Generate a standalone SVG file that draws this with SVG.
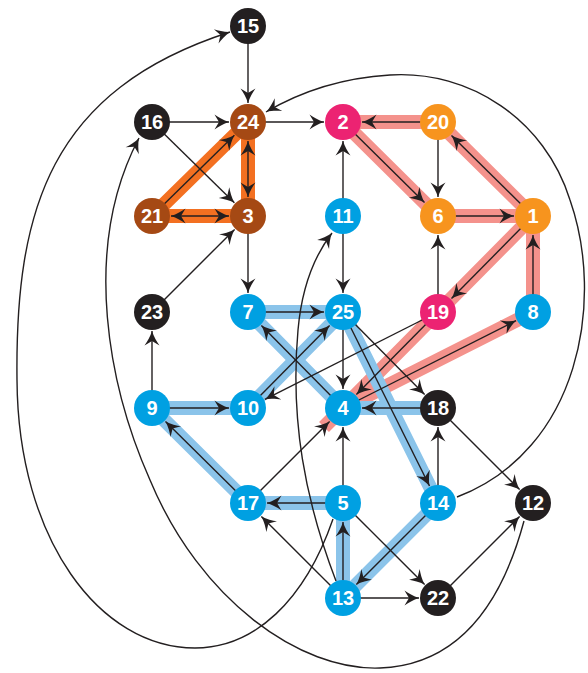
<svg xmlns="http://www.w3.org/2000/svg" width="588" height="673" viewBox="0 0 588 673">
  <style>
    .edge { fill: none; stroke: #231f20; stroke-width: 1.4; }
    .arrow { marker-end: url(#ah); }
    .both { marker-start: url(#ah); marker-end: url(#ah); }
    .band { fill: none; stroke-width: 14; stroke-linejoin: miter; stroke-miterlimit: 8; }
    .bevel { stroke-linejoin: bevel; }
    .b-orange { stroke: #f37021; }
    .b-salmon { stroke: #f4928c; }
    .b-blue { stroke: #8bc4ea; }
    .node circle { stroke: none; }
    .k circle { fill: #231f20; }
    .br circle { fill: #a54914; }
    .pk circle { fill: #ec2372; }
    .or circle { fill: #f7941e; }
    .bl circle { fill: #00a0e2; }
    .node text { font-family: "Liberation Sans", Arial, sans-serif; font-weight: bold; font-size: 20px; fill: #ffffff; text-anchor: middle; }
  </style>
  <defs>
    <marker id="ah" viewBox="-15 -8 16 16" refX="0" refY="0" markerWidth="16" markerHeight="16" markerUnits="userSpaceOnUse" orient="auto-start-reverse">
      <path d="M0,0 C-5.5,-1.6 -11,-5 -14.5,-7.5 L-10,0 L-14.5,7.5 C-11,5 -5.5,1.6 0,0 Z" fill="#231f20"/>
    </marker>
  </defs>

  <!-- highlighted cycles -->
  <g id="bands">
    <polygon class="band b-orange" points="152,216 248,122 248,216"/>
    <polygon class="band b-salmon" points="343,122 438,122 533,216 438,216"/>
    <polygon class="band b-salmon bevel" points="533,216 343,408 533,312"/>
    <line class="band b-salmon" x1="343" y1="408" x2="324" y2="427"/>
    <polygon class="band b-blue" points="343,312 248,408 152,408 248,503 343,503 343,598 438,503"/>
    <polyline class="band b-blue" points="343,312 248,312 343,408 438,408"/>
  </g>

  <g id="connectors">
    <!-- orange cluster -->
    <line class="edge arrow" x1="152" y1="216" x2="234.4" y2="135.3"/>
    <line class="edge both" x1="248" y1="141" x2="248" y2="197"/>
    <line class="edge both" x1="171" y1="216" x2="229" y2="216"/>
    <line class="edge arrow" x1="248" y1="26" x2="248" y2="103"/>
    <line class="edge arrow" x1="152" y1="122" x2="229" y2="122"/>
    <line class="edge arrow" x1="152" y1="122" x2="234.4" y2="202.7"/>
    <line class="edge arrow" x1="152" y1="312" x2="234.6" y2="229.4"/>
    <line class="edge arrow" x1="248" y1="122" x2="324" y2="122"/>
    <line class="edge arrow" x1="248" y1="216" x2="248" y2="293"/>
    <!-- pink / orange cluster -->
    <line class="edge arrow" x1="438" y1="122" x2="362" y2="122"/>
    <line class="edge arrow" x1="343" y1="122" x2="424.5" y2="202.6"/>
    <line class="edge arrow" x1="438" y1="216" x2="514" y2="216"/>
    <line class="edge arrow" x1="533" y1="216" x2="451.5" y2="135.4"/>
    <line class="edge arrow" x1="438" y1="122" x2="438" y2="197"/>
    <line class="edge arrow" x1="533" y1="216" x2="451.5" y2="298.6"/>
    <line class="edge arrow" x1="438" y1="312" x2="356.4" y2="394.5"/>
    <line class="edge arrow" x1="343" y1="408" x2="516.1" y2="320.6"/>
    <line class="edge arrow" x1="533" y1="312" x2="533" y2="235"/>
    <line class="edge arrow" x1="438" y1="312" x2="438" y2="235"/>
    <line class="edge arrow" x1="438" y1="312" x2="264.9" y2="399.4"/>
    <line class="edge arrow" x1="343" y1="216" x2="343" y2="141"/>
    <line class="edge arrow" x1="343" y1="216" x2="343" y2="293"/>
    <!-- blue cluster -->
    <line class="edge arrow" x1="248" y1="312" x2="324" y2="312"/>
    <line class="edge arrow" x1="343" y1="408" x2="261.4" y2="325.4"/>
    <line class="edge arrow" x1="248" y1="408" x2="329.6" y2="325.4"/>
    <line class="edge arrow" x1="152" y1="408" x2="229" y2="408"/>
    <line class="edge arrow" x1="248" y1="503" x2="165.5" y2="421.4"/>
    <line class="edge arrow" x1="343" y1="503" x2="267" y2="503"/>
    <line class="edge arrow" x1="343" y1="598" x2="343" y2="522"/>
    <line class="edge arrow" x1="438" y1="503" x2="356.4" y2="584.6"/>
    <line class="edge arrow" x1="343" y1="312" x2="429.5" y2="486"/>
    <line class="edge arrow" x1="438" y1="408" x2="362" y2="408"/>
    <!-- remaining edges -->
    <line class="edge arrow" x1="343" y1="312" x2="343" y2="389"/>
    <line class="edge arrow" x1="343" y1="312" x2="424.6" y2="394.5"/>
    <line class="edge arrow" x1="438" y1="503" x2="438" y2="427"/>
    <line class="edge arrow" x1="438" y1="408" x2="519.6" y2="489.6"/>
    <line class="edge arrow" x1="343" y1="503" x2="343" y2="427"/>
    <line class="edge arrow" x1="248" y1="503" x2="329.6" y2="421.4"/>
    <line class="edge arrow" x1="343" y1="503" x2="424.6" y2="584.6"/>
    <line class="edge arrow" x1="343" y1="598" x2="419" y2="598"/>
    <line class="edge arrow" x1="438" y1="598" x2="519.6" y2="516.4"/>
    <line class="edge arrow" x1="343" y1="598" x2="261.4" y2="516.4"/>
    <line class="edge arrow" x1="152" y1="408" x2="152" y2="331"/>
    <!-- long curved edges -->
    <path class="edge arrow" d="M457,497 C580,450 605,300 570,200 C545,120 470,70 390,75 C340,78 300,92 266,112"/>
    <path class="edge arrow" d="M524,521 C500,610 455,665 380,668 C300,671 200,600 150,480 C110,390 80,250 139,138"/>
    <path class="edge arrow" d="M333,519 C305,600 255,648 195,648 C100,648 18,540 17,380 C15,210 50,90 230,32"/>
    <path class="edge arrow" d="M336,581 C305,500 290,420 298,330 C302,285 315,255 332,233"/>
  </g>

  <g id="n15" class="node k"><circle cx="248" cy="26" r="18"/><text x="248" y="33">15</text></g>
  <g id="n16" class="node k"><circle cx="152" cy="122" r="18"/><text x="152" y="129">16</text></g>
  <g id="n24" class="node br"><circle cx="248" cy="122" r="18"/><text x="248" y="129">24</text></g>
  <g id="n2" class="node pk"><circle cx="343" cy="122" r="18"/><text x="343" y="129">2</text></g>
  <g id="n20" class="node or"><circle cx="438" cy="122" r="18"/><text x="438" y="129">20</text></g>
  <g id="n21" class="node br"><circle cx="152" cy="216" r="18"/><text x="152" y="223">21</text></g>
  <g id="n3" class="node br"><circle cx="248" cy="216" r="18"/><text x="248" y="223">3</text></g>
  <g id="n11" class="node bl"><circle cx="343" cy="216" r="18"/><text x="343" y="223">11</text></g>
  <g id="n6" class="node or"><circle cx="438" cy="216" r="18"/><text x="438" y="223">6</text></g>
  <g id="n1" class="node or"><circle cx="533" cy="216" r="18"/><text x="533" y="223">1</text></g>
  <g id="n23" class="node k"><circle cx="152" cy="312" r="18"/><text x="152" y="319">23</text></g>
  <g id="n7" class="node bl"><circle cx="248" cy="312" r="18"/><text x="248" y="319">7</text></g>
  <g id="n25" class="node bl"><circle cx="343" cy="312" r="18"/><text x="343" y="319">25</text></g>
  <g id="n19" class="node pk"><circle cx="438" cy="312" r="18"/><text x="438" y="319">19</text></g>
  <g id="n8" class="node bl"><circle cx="533" cy="312" r="18"/><text x="533" y="319">8</text></g>
  <g id="n9" class="node bl"><circle cx="152" cy="408" r="18"/><text x="152" y="415">9</text></g>
  <g id="n10" class="node bl"><circle cx="248" cy="408" r="18"/><text x="248" y="415">10</text></g>
  <g id="n4" class="node bl"><circle cx="343" cy="408" r="18"/><text x="343" y="415">4</text></g>
  <g id="n18" class="node k"><circle cx="438" cy="408" r="18"/><text x="438" y="415">18</text></g>
  <g id="n17" class="node bl"><circle cx="248" cy="503" r="18"/><text x="248" y="510">17</text></g>
  <g id="n5" class="node bl"><circle cx="343" cy="503" r="18"/><text x="343" y="510">5</text></g>
  <g id="n14" class="node bl"><circle cx="438" cy="503" r="18"/><text x="438" y="510">14</text></g>
  <g id="n12" class="node k"><circle cx="533" cy="503" r="18"/><text x="533" y="510">12</text></g>
  <g id="n13" class="node bl"><circle cx="343" cy="598" r="18"/><text x="343" y="605">13</text></g>
  <g id="n22" class="node k"><circle cx="438" cy="598" r="18"/><text x="438" y="605">22</text></g>
</svg>
